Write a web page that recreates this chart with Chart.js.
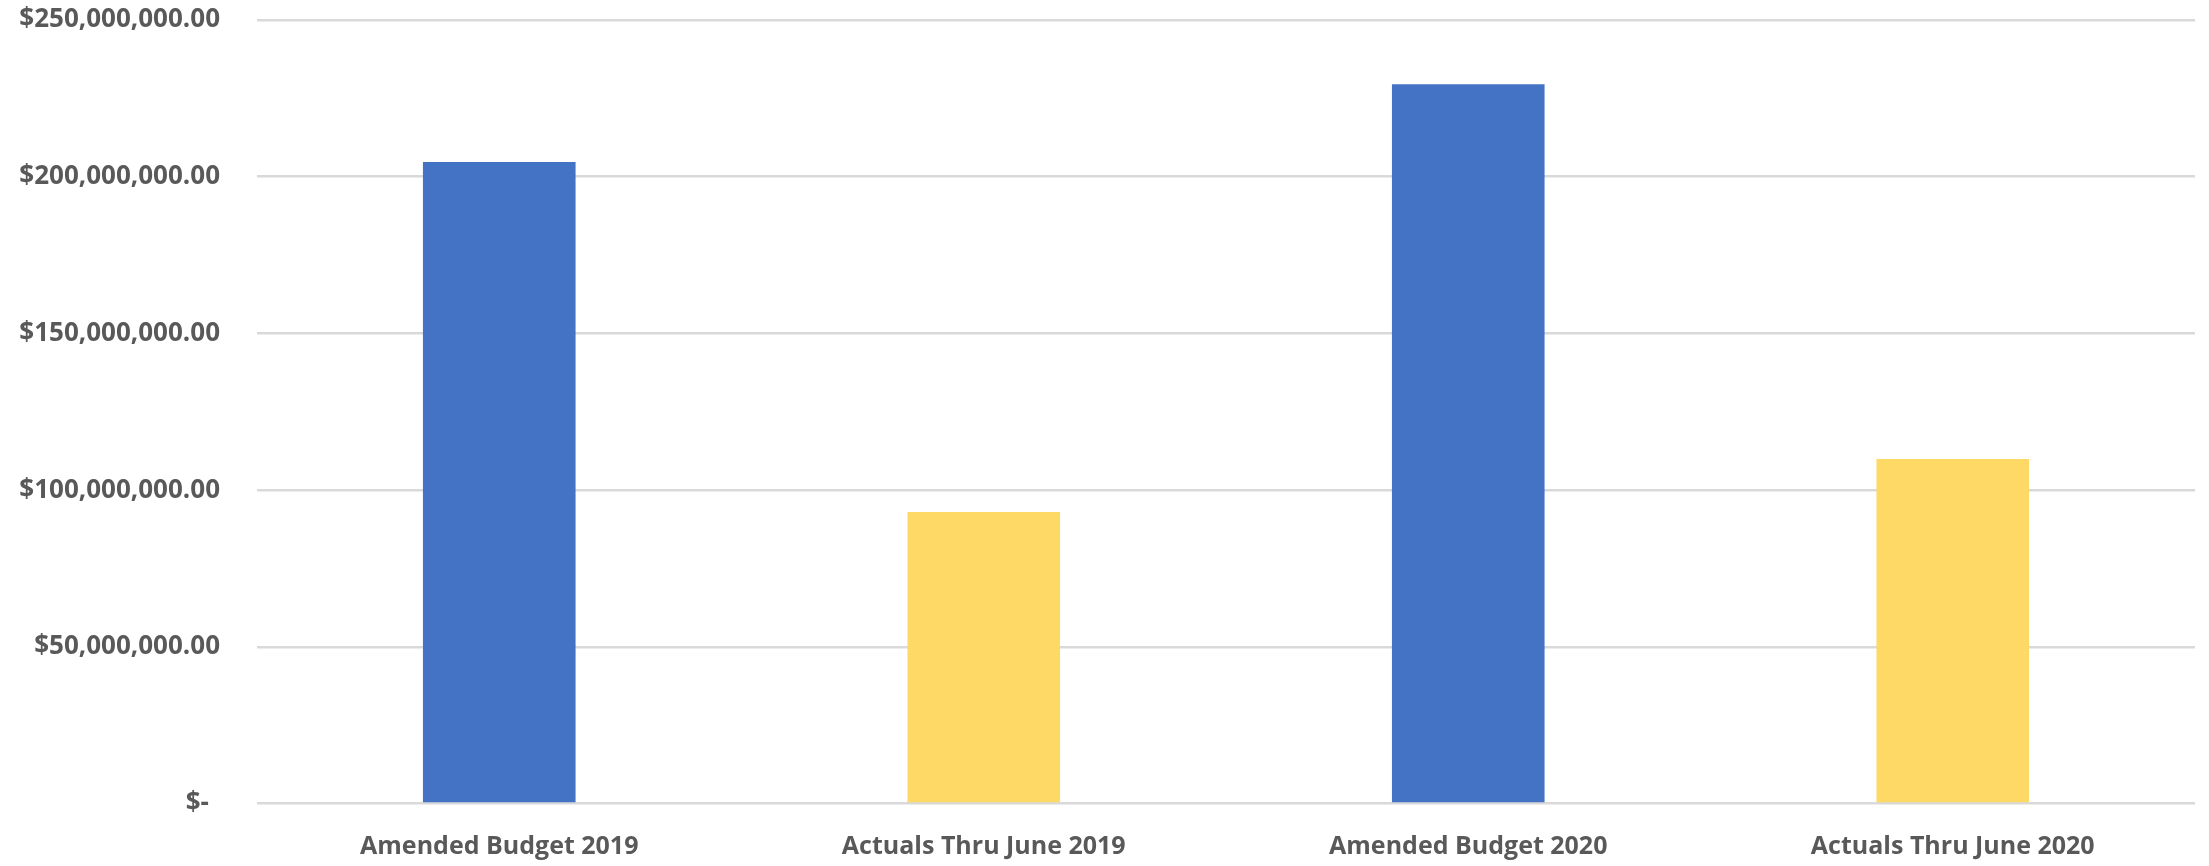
<!DOCTYPE html>
<html>
<head>
<meta charset="utf-8">
<script src="https://cdn.jsdelivr.net/npm/chart.js@4/dist/chart.umd.min.js"></script>
<style>
  html, body { margin: 0; padding: 0; background: #ffffff; }
  #wrap { width: 2209px; height: 866px; position: relative; }
  canvas { display: block; }
</style>
</head>
<body>
<div id="wrap"><canvas id="c"></canvas></div>
<script>
const categories = ['Amended Budget 2019', 'Actuals Thru June 2019', 'Amended Budget 2020', 'Actuals Thru June 2020'];
const amounts = [204700000, 93000000, 229500000, 109900000];
const barColors = ['#4472C4', '#FFD966', '#4472C4', '#FFD966'];
const yTickMin = 0;
const yTickMax = 250000000;
const yTickStep = 50000000;

function fmtMoney(v) {
  if (v === 0) return '$- \u2009';
  return '$' + v.toLocaleString('en-US', { minimumFractionDigits: 2, maximumFractionDigits: 2 });
}

new Chart(document.getElementById('c'), {
  type: 'bar',
  data: {
    labels: categories,
    datasets: [{
      data: amounts,
      backgroundColor: barColors,
      borderWidth: 0,
      categoryPercentage: 1.0,
      barPercentage: 0.315
    }]
  },
  options: {
    responsive: true,
    maintainAspectRatio: false,
    animation: false,
    devicePixelRatio: 1,
    layout: { padding: { top: 20, right: 14, bottom: 0, left: 0 } },
    plugins: { legend: { display: false }, tooltip: { enabled: false } },
    scales: {
      x: {
        grid: { display: false, drawTicks: false },
        border: { display: false },
        ticks: {
          color: '#595959',
          padding: 28,
          maxRotation: 0,
          font: { family: 'Open Sans', weight: 'bold', size: 25 }
        },
        afterFit: (s) => { s.height = 62.5; s.paddingLeft = 0; s.paddingRight = 0; }
      },
      y: {
        min: yTickMin,
        max: yTickMax,
        grid: { color: '#d9d9d9', lineWidth: 2.5, drawTicks: false },
        border: { display: false },
        ticks: {
          stepSize: yTickStep,
          color: '#595959',
          padding: 37,
          font: { family: 'Open Sans', weight: 'bold', size: 26 },
          callback: (v) => fmtMoney(v)
        },
        afterFit: (s) => { s.width = 257; s.paddingTop = 0; s.paddingBottom = 0; }
      }
    }
  }
});
</script>
</body>
</html>
